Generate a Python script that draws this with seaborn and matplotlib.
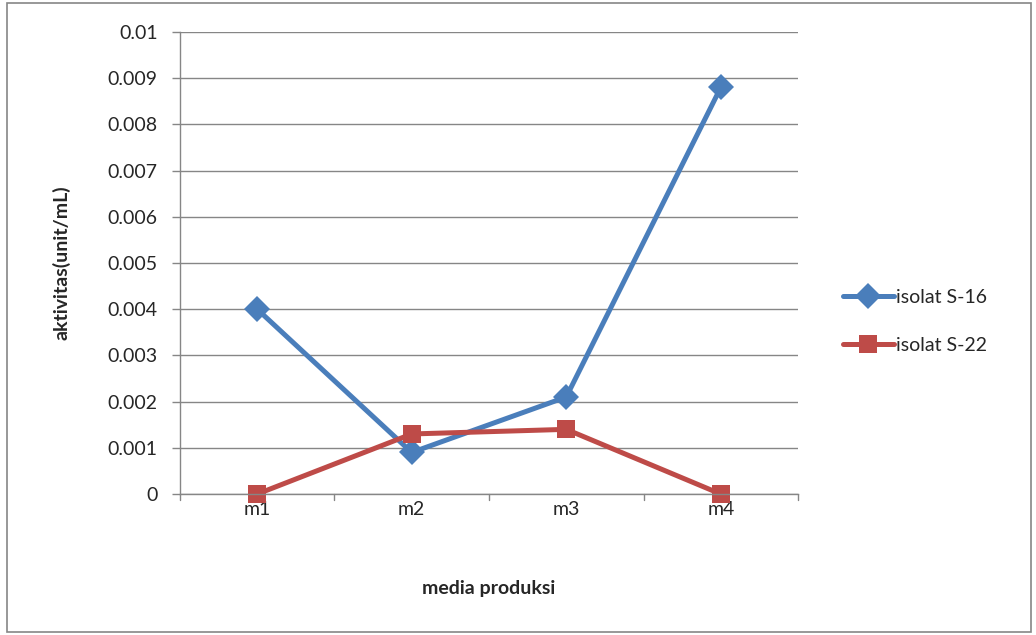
import matplotlib
matplotlib.use("Agg")
import matplotlib.pyplot as plt
import seaborn as sns
import pandas as pd
from matplotlib.patches import Rectangle

categories = ["m1", "m2", "m3", "m4"]
s16 = [0.004, 0.0009, 0.0021, 0.0088]
s22 = [0.0, 0.0013, 0.0014, 0.0]
series_names = ["isolat S-16", "isolat S-22"]
yticks = [0, 0.001, 0.002, 0.003, 0.004, 0.005, 0.006, 0.007, 0.008, 0.009, 0.01]
ytick_labels = ["0", "0.001", "0.002", "0.003", "0.004", "0.005", "0.006", "0.007", "0.008", "0.009", "0.01"]

df = pd.DataFrame({
    "media": categories * 2,
    "val": s16 + s22,
    "series": [series_names[0]] * 4 + [series_names[1]] * 4,
})

sns.set_theme(style="white")
plt.rcParams['font.family'] = ['Lato', 'DejaVu Sans']

fig = plt.figure(figsize=(10.36, 6.35), dpi=100)
fig.patches.append(Rectangle((0.007, 0.004), 0.988, 0.992, transform=fig.transFigure,
                             fill=False, edgecolor="#868686", linewidth=1.2))
ax = fig.add_axes([0.1737, 0.222, 0.5966, 0.7276])

colors = {series_names[0]: "#4A7EBB", series_names[1]: "#BE4B48"}
markers = {series_names[0]: "D", series_names[1]: "s"}
sns.lineplot(data=df, x="media", y="val", hue="series", style="series",
             palette=colors, markers=markers, dashes=False, linewidth=3.6,
             markersize=13, markeredgewidth=0, ax=ax, sort=False, clip_on=False)

ax.set_xlim(-0.5, 3.5)
ax.set_ylim(0, 0.01)
ax.set_yticks(yticks)
ax.set_yticklabels(ytick_labels, fontsize=14)
ax.set_xticks(range(4))
ax.set_xticklabels(categories, fontsize=14)
ax.tick_params(axis="x", length=0, pad=5)
ax.tick_params(axis="y", length=6, color="#868686", width=1, direction="out", pad=10, left=True)
for v in [-0.5, 0.5, 1.5, 2.5, 3.5]:
    ax.plot([v, v], [0, -0.00013], color="#868686", lw=1, clip_on=False)
ax.grid(axis="y", color="#868686", linewidth=1)
ax.set_axisbelow(True)
for s in ["top", "right"]:
    ax.spines[s].set_visible(False)
ax.spines["left"].set_color("#868686")
ax.spines["bottom"].set_color("#868686")
ax.spines["left"].set_linewidth(1)
ax.spines["bottom"].set_linewidth(1)

ax.set_xlabel("media produksi", fontsize=14, fontweight="bold", labelpad=45)
ax.set_ylabel("aktivitas(unit/mL)", fontsize=14, fontweight="bold", labelpad=27)

handles, labels = ax.get_legend_handles_labels()
ax.get_legend().remove()
fig.legend(handles, labels, loc="center left", bbox_to_anchor=(0.797, 0.494),
           frameon=False, fontsize=14, handlelength=2.6, handletextpad=0.1,
           labelspacing=1.6)

fig.savefig("out.png", dpi=100)
